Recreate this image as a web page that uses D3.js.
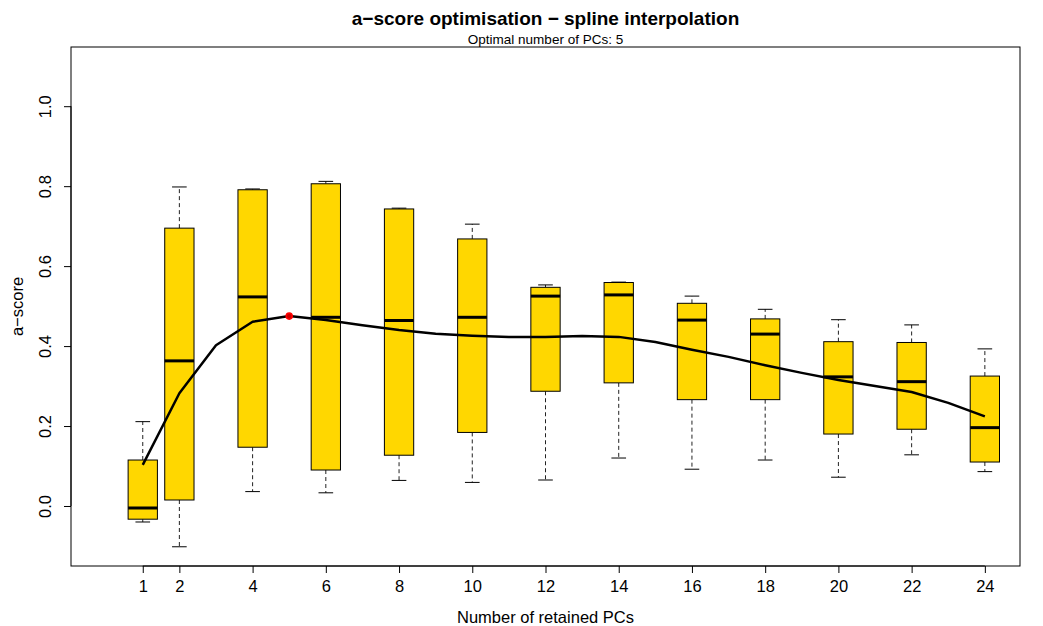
<!DOCTYPE html>
<html>
<head>
<meta charset="utf-8">
<script src="https://cdn.jsdelivr.net/npm/d3@7"></script>
<style>
  body { margin: 0; background: #fff; }
  svg { display: block; font-family: "Liberation Sans", Arial, Helvetica, sans-serif; }
</style>
</head>
<body>
<svg id="chart" width="1043" height="626"></svg>
<script>
// Boxplot summaries per number of retained PCs
const positions = [1, 2, 4, 6, 8, 10, 12, 14, 16, 18, 20, 22, 24];
const whiskerLow = [-0.040, -0.102, 0.036, 0.033, 0.064, 0.059, 0.065, 0.120, 0.092, 0.115, 0.072, 0.128, 0.086];
const boxLow     = [-0.033, 0.015, 0.147, 0.090, 0.127, 0.184, 0.287, 0.308, 0.266, 0.266, 0.180, 0.192, 0.110];
const medians    = [-0.005, 0.363, 0.523, 0.472, 0.464, 0.472, 0.525, 0.528, 0.465, 0.430, 0.323, 0.311, 0.196];
const boxHigh    = [0.115, 0.695, 0.791, 0.806, 0.743, 0.668, 0.547, 0.559, 0.507, 0.468, 0.411, 0.409, 0.325];
const whiskerHigh= [0.211, 0.798, 0.793, 0.812, 0.745, 0.705, 0.553, 0.560, 0.525, 0.492, 0.466, 0.453, 0.393];

// Spline-interpolated mean a-score for 1..24 PCs
const splinePCs = d3.range(1, 25);
const splineScore = [0.103, 0.282, 0.402, 0.461, 0.475, 0.465, 0.452, 0.440, 0.431, 0.426, 0.423, 0.423,
                     0.425, 0.423, 0.410, 0.391, 0.373, 0.352, 0.333, 0.315, 0.300, 0.285, 0.258, 0.224];
const optimalPC = 5;

const xTicks = [1, 2, 4, 6, 8, 10, 12, 14, 16, 18, 20, 22, 24];
const yTicks = [0.0, 0.2, 0.4, 0.6, 0.8, 1.0];

const svg = d3.select("#chart");
const plotLeft = 71, plotRight = 1020, plotTop = 47, plotBottom = 566;
const fontAxis = 16.5, fontMain = 19, fontSub = 13.5;

// Limits widened by 4% on each side, as in base graphics
const xlim = [0, 24], ylim = [-0.102, 1.1];
const xpad = (xlim[1] - xlim[0]) * 0.04, ypad = (ylim[1] - ylim[0]) * 0.04;
const x = d3.scaleLinear().domain([xlim[0] - xpad, xlim[1] + xpad]).range([plotLeft, plotRight]);
const y = d3.scaleLinear().domain([ylim[0] - ypad, ylim[1] + ypad]).range([plotBottom, plotTop]);

const boxHalf = 0.4;     // half box width in data units
const stapleHalf = 0.2;  // half staple width

// Box plots
const boxes = svg.append("g");
positions.forEach((p, i) => {
  const g = boxes.append("g");
  // whiskers (dashed)
  g.append("line").attr("x1", x(p)).attr("x2", x(p))
    .attr("y1", y(boxHigh[i])).attr("y2", y(whiskerHigh[i]))
    .attr("stroke", "#222").attr("stroke-width", 1).attr("stroke-dasharray", "4,3");
  g.append("line").attr("x1", x(p)).attr("x2", x(p))
    .attr("y1", y(boxLow[i])).attr("y2", y(whiskerLow[i]))
    .attr("stroke", "#222").attr("stroke-width", 1).attr("stroke-dasharray", "4,3");
  // staples
  [whiskerHigh[i], whiskerLow[i]].forEach(v => {
    g.append("line").attr("x1", x(p - stapleHalf)).attr("x2", x(p + stapleHalf))
      .attr("y1", y(v)).attr("y2", y(v))
      .attr("stroke", "#000").attr("stroke-width", 1);
  });
  // box
  g.append("rect")
    .attr("x", x(p - boxHalf)).attr("width", x(p + boxHalf) - x(p - boxHalf))
    .attr("y", y(boxHigh[i])).attr("height", y(boxLow[i]) - y(boxHigh[i]))
    .attr("fill", "#FFD700").attr("stroke", "#000").attr("stroke-width", 1);
  // median
  g.append("line").attr("x1", x(p - boxHalf)).attr("x2", x(p + boxHalf))
    .attr("y1", y(medians[i])).attr("y2", y(medians[i]))
    .attr("stroke", "#000").attr("stroke-width", 3);
});

// Spline curve
const line = d3.line().x((d, i) => x(splinePCs[i])).y(d => y(d));
svg.append("path").datum(splineScore)
  .attr("d", line).attr("fill", "none")
  .attr("stroke", "#000").attr("stroke-width", 2.5).attr("stroke-linejoin", "round");

// Optimal point
svg.append("circle")
  .attr("cx", x(optimalPC)).attr("cy", y(splineScore[optimalPC - 1])).attr("r", 3)
  .attr("fill", "#c00").attr("stroke", "#ff0000").attr("stroke-width", 1.6);

// Frame
svg.append("rect").attr("x", plotLeft).attr("y", plotTop)
  .attr("width", plotRight - plotLeft).attr("height", plotBottom - plotTop)
  .attr("fill", "none").attr("stroke", "#000").attr("stroke-width", 1);

// X axis
const xAxis = svg.append("g").attr("transform", `translate(0,${plotBottom})`)
  .call(d3.axisBottom(x).tickValues(xTicks).tickSize(7).tickPadding(0).tickFormat(d3.format("d")));
xAxis.select(".domain").remove();
xAxis.selectAll(".tick text")
  .attr("font-size", fontAxis).attr("fill", "#000")
  .attr("font-family", "Liberation Sans, Arial, sans-serif")
  .attr("y", 26).attr("dy", null);
xAxis.append("line").attr("x1", x(xTicks[0])).attr("x2", x(xTicks[xTicks.length - 1]))
  .attr("y1", 0).attr("y2", 0).attr("stroke", "#000");

// Y axis with rotated labels
const yAxis = svg.append("g").attr("transform", `translate(${plotLeft},0)`)
  .call(d3.axisLeft(y).tickValues(yTicks).tickSize(7).tickFormat(d3.format(".1f")));
yAxis.select(".domain").remove();
yAxis.append("line").attr("x1", 0).attr("x2", 0)
  .attr("y1", y(yTicks[0])).attr("y2", y(yTicks[yTicks.length - 1])).attr("stroke", "#000");
yAxis.selectAll(".tick text")
  .attr("font-size", fontAxis).attr("fill", "#000")
  .attr("font-family", "Liberation Sans, Arial, sans-serif")
  .attr("x", null)
  .attr("text-anchor", "middle")
  .attr("transform", "translate(-20.5,0) rotate(-90)")
  .attr("dy", 0);

// Titles
svg.append("text").attr("x", (plotLeft + plotRight) / 2).attr("y", 25)
  .attr("text-anchor", "middle").attr("font-size", fontMain).attr("font-weight", "bold")
  .text("a\u2212score optimisation \u2212 spline interpolation");
svg.append("text").attr("x", (plotLeft + plotRight) / 2).attr("y", 44)
  .attr("text-anchor", "middle").attr("font-size", fontSub)
  .text("Optimal number of PCs: 5");
svg.append("text").attr("x", (plotLeft + plotRight) / 2).attr("y", 623)
  .attr("text-anchor", "middle").attr("font-size", fontAxis)
  .text("Number of retained PCs");
svg.append("text").attr("transform", `translate(23,${(plotTop + plotBottom) / 2}) rotate(-90)`)
  .attr("text-anchor", "middle").attr("font-size", fontAxis)
  .text("a\u2212score");
</script>
</body>
</html>
